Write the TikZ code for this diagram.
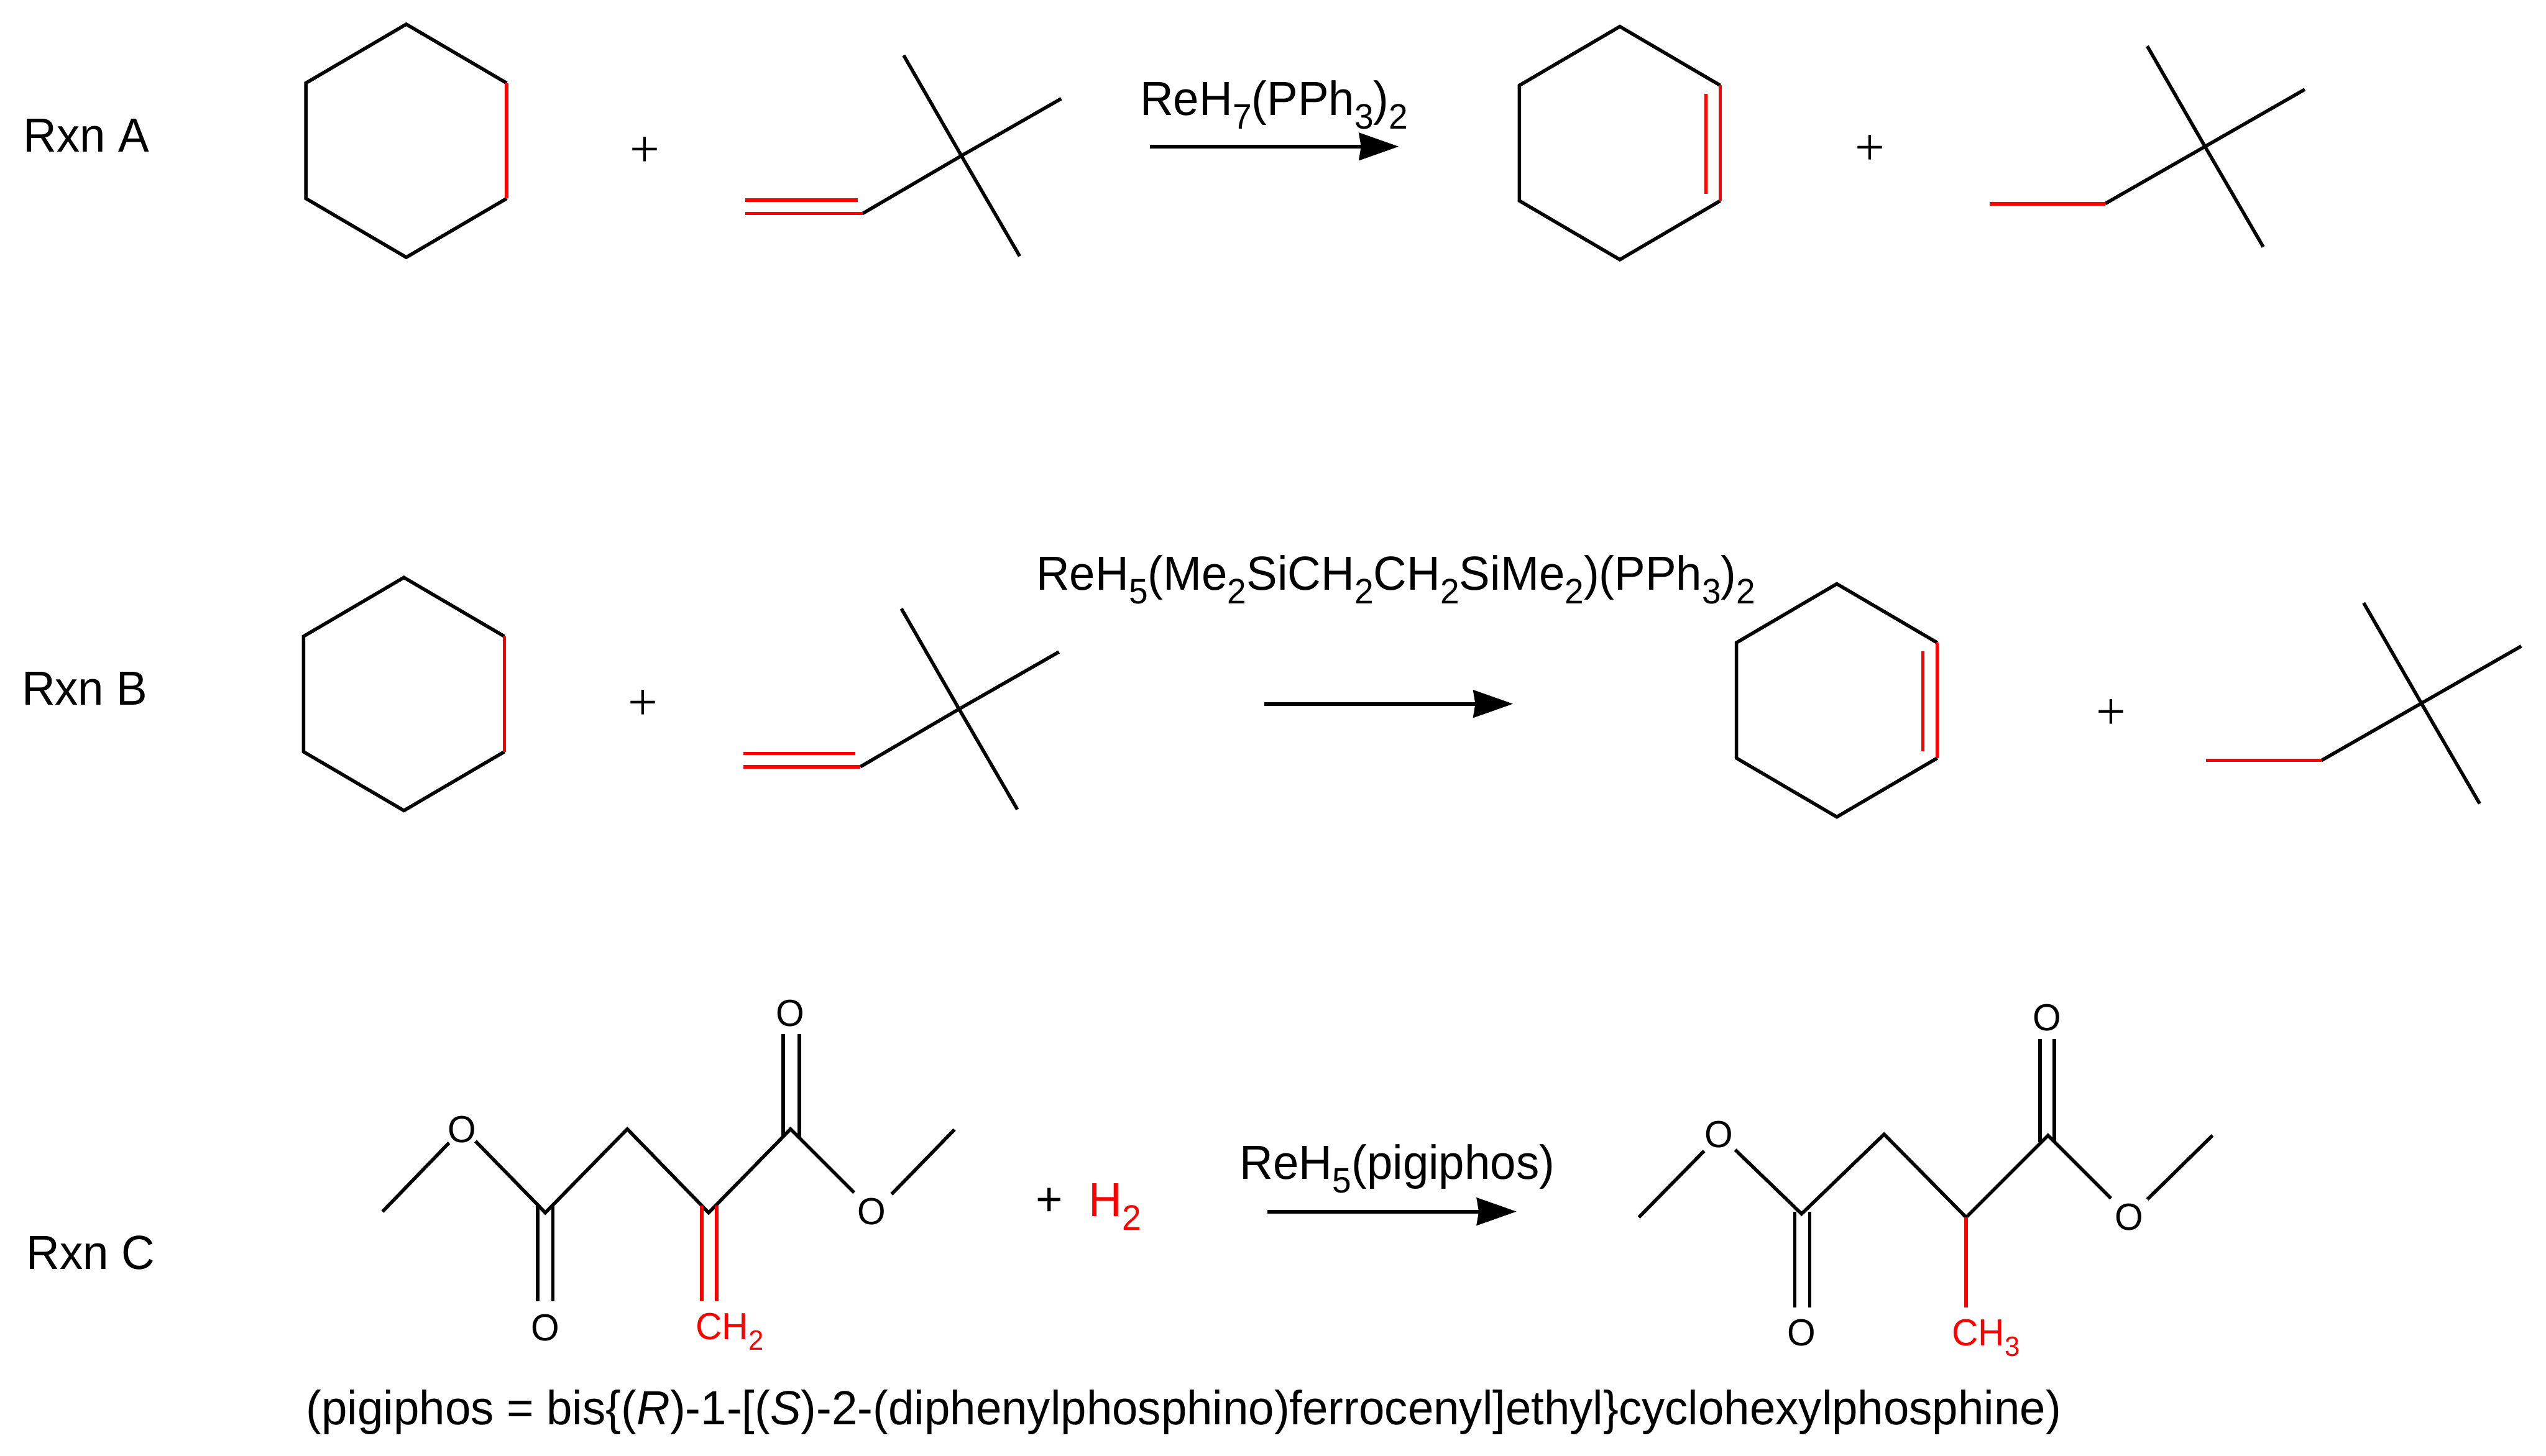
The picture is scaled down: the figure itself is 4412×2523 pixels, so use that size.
\documentclass[tikz,border=0pt]{standalone}
\usepackage{fontspec}
\setmainfont[FakeStretch=0.966]{Liberation Sans}
\newfontfamily\plusfont{Liberation Serif}
\usetikzlibrary{arrows.meta}
\definecolor{hl}{RGB}{255,0,0}
\newlength\subsz
\newcommand{\subs}[1]{\setlength\subsz{0.74em}\raisebox{-0.28em}{\fontsize{\subsz}{\subsz}\selectfont #1}}
\newcommand{\bigf}{\fontsize{23.6pt}{28pt}\selectfont}
\newcommand{\atomf}{\fontsize{18.6pt}{21pt}\selectfont}
\tikzset{
  bond/.style={line width=1.7pt,line join=miter,line cap=butt,black},
  redbond/.style={bond,draw=hl},
  rxnarrow/.style={line width=1.8pt,black,-{Stealth[length=19.6pt,width=13.5pt,inset=1pt]}},
  label/.style={inner sep=0pt,anchor=base west,font=\bigf},
  atom/.style={inner sep=0pt,anchor=center,font=\atomf},
  redatom/.style={inner sep=0pt,anchor=base west,font=\atomf,text=hl},
  thinplus/.style={inner sep=0pt,anchor=center,font=\plusfont\fontsize{26pt}{28pt}\selectfont},
}
% ring with positions relative to top vertex
\newcommand{\ringpts}[1]{%
  \coordinate (#1t) at (0,0);
  \coordinate (#1ur) at (174,102);
  \coordinate (#1lr) at (174,302);
  \coordinate (#1b) at (0,404);
  \coordinate (#1ll) at (-174,302);
  \coordinate (#1ul) at (-174,102);
}
% saturated cyclohexane with red edge
\newcommand{\satring}[1]{%
  \ringpts{#1}
  \draw[bond] (#1lr) -- (#1b) -- (#1ll) -- (#1ul) -- (#1t) -- (#1ur);
  \draw[redbond] (#1ur) -- (#1lr);
}
% cyclohexene with red double bond
\newcommand{\enering}[1]{%
  \ringpts{#1}
  \coordinate (#1ia) at (149,117);
  \coordinate (#1ib) at (149,290);
  \draw[bond] (#1lr) -- (#1b) -- (#1ll) -- (#1ul) -- (#1t) -- (#1ur);
  \draw[redbond] (#1ur) -- (#1lr);
  \draw[redbond] (#1ia) -- (#1ib);
}
% neohexene, origin at quaternary carbon
\newcommand{\tbutyl}[1]{%
  \coordinate (#1q) at (0,0);
  \coordinate (#1ue) at (173,-99);
  \coordinate (#1ul) at (-100,-174);
  \coordinate (#1dn) at (101,174);
  \draw[bond] (#1ul) -- (#1q) -- (#1dn);
  \draw[bond] (#1q) -- (#1ue);
}
\newcommand{\alkene}[1]{%
  \tbutyl{#1}
  \coordinate (#1c) at (-171,100);
  \coordinate (#1a1) at (-374,77);
  \coordinate (#1a2) at (-180,77);
  \coordinate (#1b1) at (-374,100);
  \draw[bond] (#1c) -- (#1q);
  \draw[redbond] (#1a1) -- (#1a2);
  \draw[redbond] (#1b1) -- (#1c);
}
\newcommand{\alkane}[1]{%
  \tbutyl{#1}
  \coordinate (#1c) at (-173,99);
  \coordinate (#1e) at (-373,99);
  \draw[bond] (#1c) -- (#1q);
  \draw[redbond] (#1e) -- (#1c);
}
\begin{document}
\begin{tikzpicture}[x=0.01cm,y=-0.01cm]
\useasboundingbox (0,0) rectangle (4412,2523);
% ---------- Rxn A
\node[label] (lA) at (40,263) {Rxn A};
\begin{scope}[shift={(704,42)}]\satring{ra}\end{scope}
\node[thinplus] (pA1) at (1117,263) {+};
\begin{scope}[shift={(1666,270)}]\alkene{aa}\end{scope}
\node[label] (tA) at (1975,200) {ReH\subs{7}(PPh\subs{3})\subs{2}};
\coordinate (aAs) at (1993,254);
\coordinate (aAe) at (2424,254);
\draw[rxnarrow] (aAs) -- (aAe);
\begin{scope}[shift={(2807,46)}]\enering{pa}\end{scope}
\node[thinplus] (pA2) at (3241,260) {+};
\begin{scope}[shift={(3821,254)}]\alkane{ba}\end{scope}
% ---------- Rxn B
\node[label] (lB) at (37,1222) {Rxn B};
\begin{scope}[shift={(700,1001)}]\satring{rb}\end{scope}
\node[thinplus] (pB1) at (1114,1222) {+};
\begin{scope}[shift={(1662,1229)}]\alkene{ab}\end{scope}
\node[label] (tB) at (1795,1023) {ReH\subs{5}(Me\subs{2}SiCH\subs{2}CH\subs{2}SiMe\subs{2})(PPh\subs{3})\subs{2}};
\coordinate (aBs) at (2191,1220);
\coordinate (aBe) at (2622,1220);
\draw[rxnarrow] (aBs) -- (aBe);
\begin{scope}[shift={(3183,1012)}]\enering{pb}\end{scope}
\node[thinplus] (pB2) at (3658,1238) {+};
\begin{scope}[shift={(4196,1219)}]\alkane{bb}\end{scope}
% ---------- Rxn C reactant
\node[label] (lC) at (45,2200) {Rxn C};
\coordinate (m1) at (663,2100);
\coordinate (o1a) at (778,1981);
\coordinate (o1b) at (824,1978);
\coordinate (c1) at (945,2102);
\coordinate (c2) at (1087,1957);
\coordinate (c3) at (1228,2102);
\coordinate (c4) at (1370,1957);
\coordinate (o2a) at (1480,2067);
\coordinate (o2b) at (1545,2070);
\coordinate (m2) at (1654,1958);
\node[atom] (O1) at (801,1958) {O};
\node[atom] (O2) at (1511,2100) {O};
\node[atom] (O3) at (1369,1756) {O};
\node[atom] (O4) at (945,2301) {O};
\draw[bond] (m1) -- (o1a);
\draw[bond] (o1b) -- (c1) -- (c2) -- (c3) -- (c4) -- (o2a);
\draw[bond] (o2b) -- (m2);
\coordinate (d1a) at (1357,1792); \coordinate (d1b) at (1357,1970);
\coordinate (d2a) at (1385,1792); \coordinate (d2b) at (1385,1970);
\draw[bond] (d1a) -- (d1b);
\draw[bond] (d2a) -- (d2b);
\coordinate (d3a) at (932,2090); \coordinate (d3b) at (932,2255);
\coordinate (d4a) at (958,2090); \coordinate (d4b) at (958,2255);
\draw[bond] (d3a) -- (d3b);
\draw[bond] (d4a) -- (d4b);
\coordinate (d5a) at (1216,2090); \coordinate (d5b) at (1216,2255);
\coordinate (d6a) at (1242,2090); \coordinate (d6b) at (1242,2255);
\draw[redbond] (d5a) -- (d5b);
\draw[redbond] (d6a) -- (d6b);
\node[redatom] (ch2) at (1205,2322) {CH\subs{2}};
\node[inner sep=0pt,anchor=center,font=\bigf] (pC) at (1818,2083) {+};
\node[label,text=hl] (h2) at (1886,2109) {H\subs{2}};
\node[label] (tC) at (2148,2044) {ReH\subs{5}(pigiphos)};
\coordinate (aCs) at (2196,2100);
\coordinate (aCe) at (2628,2100);
\draw[rxnarrow] (aCs) -- (aCe);
% ---------- Rxn C product
\coordinate (n1) at (2840,2110);
\coordinate (p1a) at (2953,1995);
\coordinate (p1b) at (3007,1993);
\coordinate (e1) at (3122,2104);
\coordinate (e2) at (3265,1966);
\coordinate (e3) at (3407,2110);
\coordinate (e4) at (3549,1968);
\coordinate (p2a) at (3658,2077);
\coordinate (p2b) at (3721,2079);
\coordinate (n2) at (3834,1968);
\node[atom] (O5) at (2979,1966) {O};
\node[atom] (O6) at (3689,2110) {O};
\node[atom] (O7) at (3547,1764) {O};
\node[atom] (O8) at (3122,2310) {O};
\draw[bond] (n1) -- (p1a);
\draw[bond] (p1b) -- (e1) -- (e2) -- (e3) -- (e4) -- (p2a);
\draw[bond] (p2b) -- (n2);
\coordinate (f1a) at (3535,1801); \coordinate (f1b) at (3535,1980);
\coordinate (f2a) at (3560,1801); \coordinate (f2b) at (3560,1980);
\draw[bond] (f1a) -- (f1b);
\draw[bond] (f2a) -- (f2b);
\coordinate (f3a) at (3110,2100); \coordinate (f3b) at (3110,2266);
\coordinate (f4a) at (3136,2100); \coordinate (f4b) at (3136,2266);
\draw[bond] (f3a) -- (f3b);
\draw[bond] (f4a) -- (f4b);
\coordinate (f5b) at (3407,2266);
\draw[redbond] (e3) -- (f5b);
\node[redatom] (ch3) at (3382,2333) {CH\subs{3}};
% ---------- footnote
\node[label] (note) at (530,2469) {(pigiphos = bis\{(\textit{R})-1-[(\textit{S})-2-(diphenylphosphino)ferrocenyl]ethyl\}cyclohexylphosphine)};
\end{tikzpicture}
\end{document}
